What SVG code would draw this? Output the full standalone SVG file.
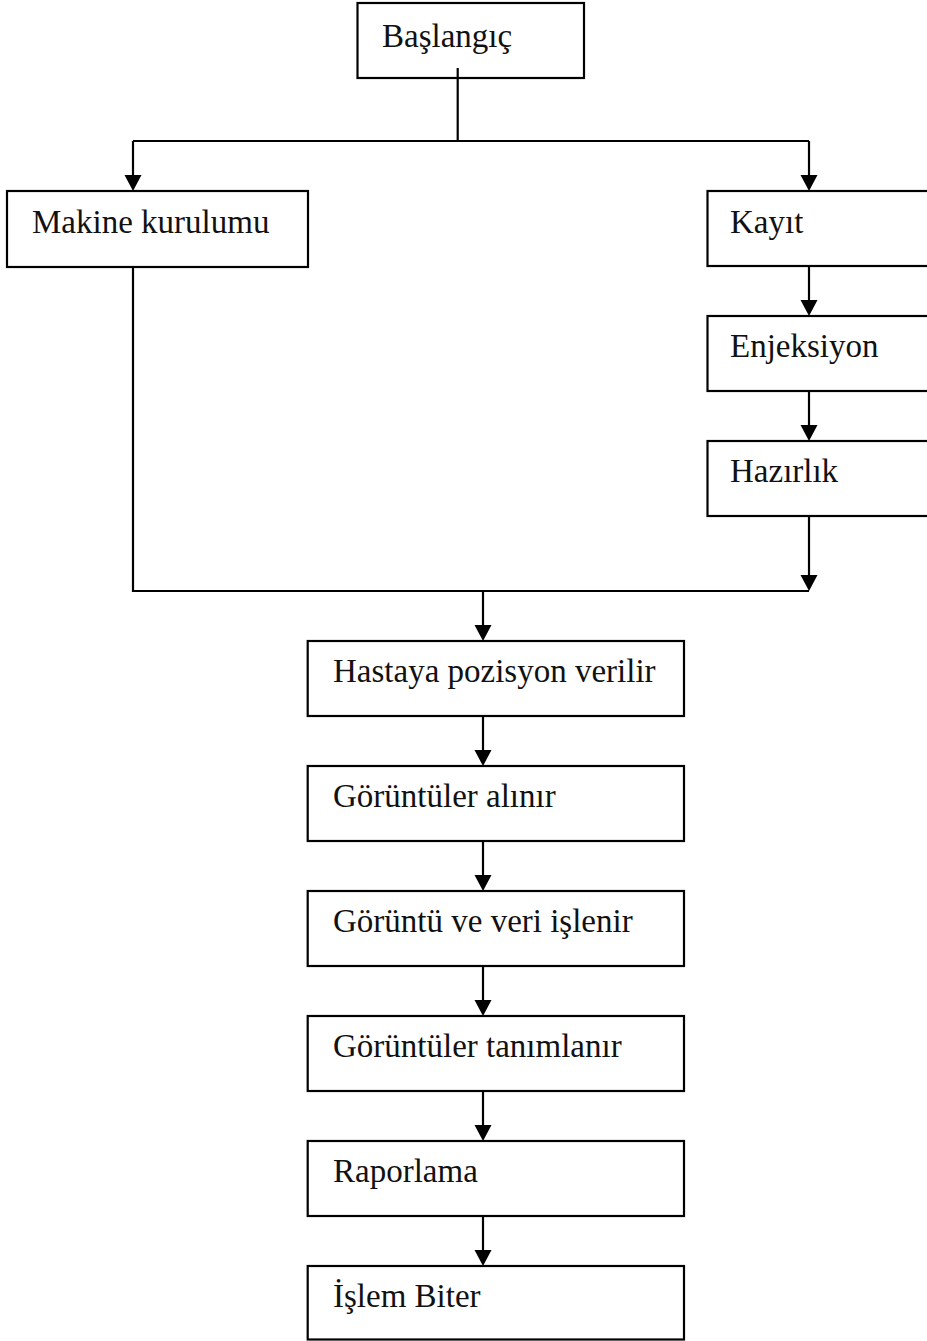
<svg xmlns="http://www.w3.org/2000/svg" width="927" height="1341" viewBox="0 0 927 1341">
  <style>
    .box { fill: #ffffff; stroke: #000000; stroke-width: 2.2; }
    .lbl { font-family: "Liberation Serif", "Times New Roman", serif; font-size: 33px; fill: #111111; }
    .wire { fill: none; stroke: #000000; stroke-width: 2.2; }
  </style>
  <defs>
    <!-- downward arrowhead, tip at (0,0) -->
    <path id="tip" d="M-8.5,-16 L8.5,-16 L0,0 Z" fill="#000000"/>
  </defs>
  <rect width="927" height="1341" fill="#ffffff"/>

  <!-- connectors -->
  <g id="connectors">
    <!-- split from start -->
    <path class="wire" d="M457.7,68 V141"/>
    <path class="wire" d="M133,141 H809"/>
    <path class="wire" d="M133,141 V175"/>
    <path class="wire" d="M809,141 V175"/>
    <!-- right branch chain -->
    <path class="wire" d="M809,266 V300"/>
    <path class="wire" d="M809,391 V425"/>
    <path class="wire" d="M809,516 V575"/>
    <!-- join -->
    <path class="wire" d="M133,267 V591 H809"/>
    <!-- main column -->
    <path class="wire" d="M483,591 V625"/>
    <path class="wire" d="M483,716 V750"/>
    <path class="wire" d="M483,841 V875"/>
    <path class="wire" d="M483,966 V1000"/>
    <path class="wire" d="M483,1091 V1125"/>
    <path class="wire" d="M483,1216 V1250"/>
    <!-- arrowheads -->
    <use href="#tip" x="133" y="191"/>
    <use href="#tip" x="809" y="191"/>
    <use href="#tip" x="809" y="316"/>
    <use href="#tip" x="809" y="441"/>
    <use href="#tip" x="809" y="591"/>
    <use href="#tip" x="483" y="641"/>
    <use href="#tip" x="483" y="766"/>
    <use href="#tip" x="483" y="891"/>
    <use href="#tip" x="483" y="1016"/>
    <use href="#tip" x="483" y="1141"/>
    <use href="#tip" x="483" y="1266"/>
  </g>

  <!-- nodes -->
  <g id="n-start">
    <rect class="box" x="357.5" y="3" width="226.5" height="75"/>
    <path class="wire" d="M457.7,68 V78"/>
    <text class="lbl" x="382" y="46.7">Başlangıç</text>
  </g>
  <g id="n-makine">
    <rect class="box" x="7" y="191" width="301" height="76"/>
    <text class="lbl" x="32" y="233.3">Makine kurulumu</text>
  </g>
  <g id="n-kayit">
    <rect class="box" x="707.5" y="191" width="240" height="75"/>
    <text class="lbl" x="730" y="233.3">Kayıt</text>
  </g>
  <g id="n-enjeksiyon">
    <rect class="box" x="707.5" y="316" width="240" height="75"/>
    <text class="lbl" x="730" y="356.7">Enjeksiyon</text>
  </g>
  <g id="n-hazirlik">
    <rect class="box" x="707.5" y="441" width="240" height="75"/>
    <text class="lbl" x="730" y="481.7">Hazırlık</text>
  </g>
  <g id="n-pozisyon">
    <rect class="box" x="307.7" y="641" width="376.3" height="75"/>
    <text class="lbl" x="333" y="681.7">Hastaya pozisyon verilir</text>
  </g>
  <g id="n-alinir">
    <rect class="box" x="307.7" y="766" width="376.3" height="75"/>
    <text class="lbl" x="333" y="807.3">Görüntüler alınır</text>
  </g>
  <g id="n-islenir">
    <rect class="box" x="307.7" y="891" width="376.3" height="75"/>
    <text class="lbl" x="333" y="932.3">Görüntü ve veri işlenir</text>
  </g>
  <g id="n-tanimlanir">
    <rect class="box" x="307.7" y="1016" width="376.3" height="75"/>
    <text class="lbl" x="333" y="1057.3">Görüntüler tanımlanır</text>
  </g>
  <g id="n-rapor">
    <rect class="box" x="307.7" y="1141" width="376.3" height="75"/>
    <text class="lbl" x="333" y="1182.3">Raporlama</text>
  </g>
  <g id="n-bitis">
    <rect class="box" x="307.7" y="1266" width="376.3" height="73.5"/>
    <text class="lbl" x="333" y="1307.3">İşlem Biter</text>
  </g>
</svg>
